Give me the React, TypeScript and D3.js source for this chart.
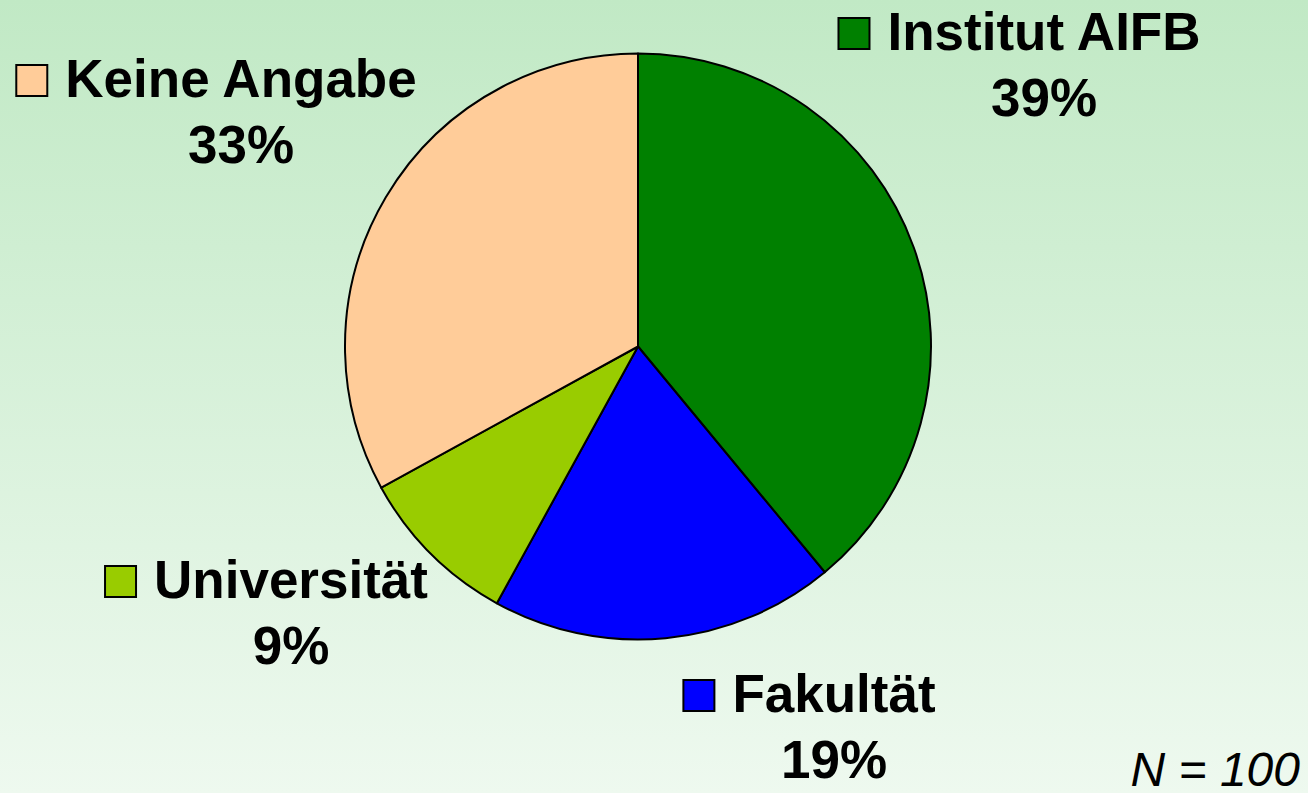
import React, { useRef, useEffect } from "react";
import * as d3 from "d3";

// data
const categories = ["Institut AIFB", "Fakultät", "Universität", "Keine Angabe"];
const shares = [39, 19, 9, 33];
const sliceColors = ["#008000", "#0000ff", "#99cc00", "#ffcc99"];
const sampleNote = "N = 100";

// label anchors: centre of the name text, baseline of the first line
const labelPos = [
  { x: 1044, y: 50 },
  { x: 834, y: 712 },
  { x: 291, y: 598 },
  { x: 241, y: 97 },
];

const W = 1308;
const H = 793;

export default function App() {
  const svgRef = useRef<SVGSVGElement>(null);

  useEffect(() => {
    document.body.style.margin = "0";
    const svg = d3.select(svgRef.current);
    svg.selectAll("*").remove();

    const defs = svg.append("defs");
    const grad = defs
      .append("linearGradient")
      .attr("id", "bg")
      .attr("x1", 0)
      .attr("y1", 0)
      .attr("x2", 0)
      .attr("y2", 1);
    grad.append("stop").attr("offset", "0%").attr("stop-color", "#c1e9c5");
    grad.append("stop").attr("offset", "100%").attr("stop-color", "#eef9ef");

    svg.append("rect").attr("width", W).attr("height", H).attr("fill", "url(#bg)");

    const cx = 638;
    const cy = 346.5;
    const radius = 293;

    const pie = d3
      .pie<number>()
      .sort(null)
      .value((d) => d);
    const arc = d3.arc<d3.PieArcDatum<number>>().innerRadius(0).outerRadius(radius);

    const g = svg.append("g").attr("transform", `translate(${cx},${cy})`);
    g.selectAll("path")
      .data(pie(shares))
      .join("path")
      .attr("d", arc)
      .attr("fill", (_, i) => sliceColors[i])
      .attr("stroke", "#000")
      .attr("stroke-width", 2)
      .attr("stroke-linejoin", "round");

    const font = "'Liberation Sans', Arial, sans-serif";

    categories.forEach((name, i) => {
      const p = labelPos[i];
      const lg = svg.append("g");
      const t = lg
        .append("text")
        .attr("x", p.x)
        .attr("y", p.y)
        .attr("text-anchor", "middle")
        .attr("font-family", font)
        .attr("font-weight", "bold")
        .attr("font-size", 53)
        .attr("fill", "#000")
        .text(name);
      const w = (t.node() as SVGTextElement).getComputedTextLength();
      const left = p.x - w / 2;
      lg.append("rect")
        .attr("x", left - 49)
        .attr("y", p.y - 32)
        .attr("width", 31)
        .attr("height", 31)
        .attr("fill", sliceColors[i])
        .attr("stroke", "#000")
        .attr("stroke-width", 2);
      lg.append("text")
        .attr("x", p.x)
        .attr("y", p.y + 66)
        .attr("text-anchor", "middle")
        .attr("font-family", font)
        .attr("font-weight", "bold")
        .attr("font-size", 53)
        .attr("fill", "#000")
        .text(`${shares[i]}%`);
    });

    svg
      .append("text")
      .attr("x", 1300)
      .attr("y", 786)
      .attr("text-anchor", "end")
      .attr("font-family", font)
      .attr("font-style", "italic")
      .attr("font-size", 48)
      .attr("fill", "#000")
      .text(sampleNote);
  }, []);

  return <svg ref={svgRef} width={W} height={H} style={{ display: "block" }} />;
}
